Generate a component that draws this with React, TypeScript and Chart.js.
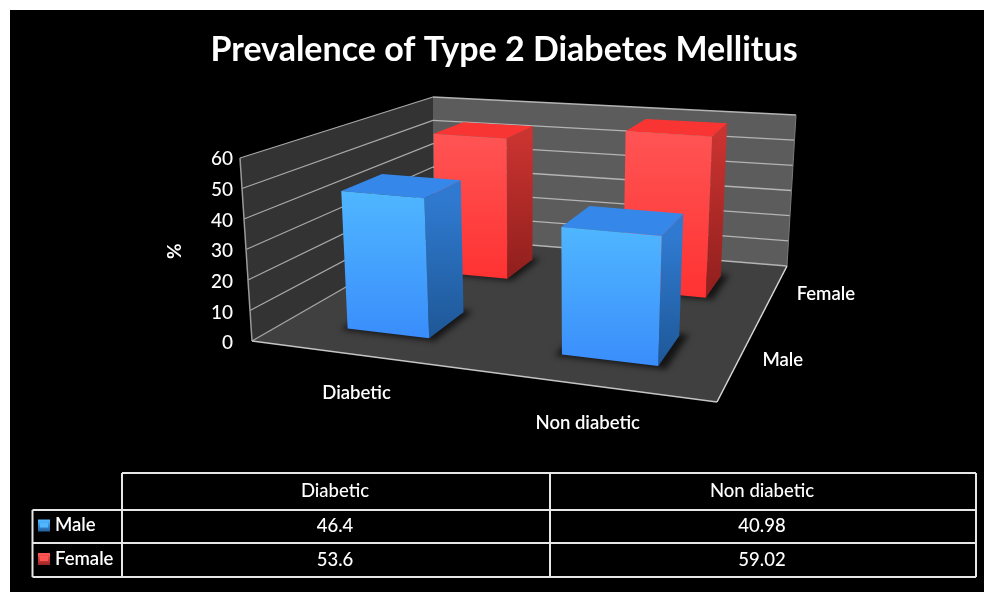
import React, { useEffect, useRef } from "react";
import { Chart, registerables } from "chart.js";

Chart.register(...registerables);

const categories = ["Diabetic", "Non diabetic"];
const seriesNames = ["Male", "Female"];
const maleValues = [46.4, 40.98];
const femaleValues = [53.6, 59.02];
const yTicks = { min: 0, max: 60, stepSize: 10 };

type Pt = [number, number];

const FONT = "Lato, 'Open Sans', sans-serif";

// Screen corners of the 3D plot box: floor (w = 0) and ceiling (w = 1).
const floorQuad: Pt[] = [[252, 341], [717, 402], [787, 266], [433, 237]];
const ceilQuad: Pt[] = [[240, 158], [727, 199], [796, 115], [433, 97]];
const BAR_DEPTH = 0.4;
// Sideways nudge of the bars inside each category band, in plot-width units.
const BAR_U_SHIFT = 0.008;

const palettes = [
  { frontTop: "#4fb6ff", frontBot: "#3a8dfb", top: "#3588ea", sideTop: "#2f7ad0", sideBot: "#1e5796" },
  { frontTop: "#ff5454", frontBot: "#ff3232", top: "#f93534", sideTop: "#c93330", sideBot: "#8f1f1d" },
];

// Projective map from the unit square onto a screen quadrilateral.
function quadMap(q: Pt[]) {
  const [[x0, y0], [x1, y1], [x2, y2], [x3, y3]] = q;
  const dx1 = x1 - x2, dx2 = x3 - x2, sx = x0 - x1 + x2 - x3;
  const dy1 = y1 - y2, dy2 = y3 - y2, sy = y0 - y1 + y2 - y3;
  const den = dx1 * dy2 - dx2 * dy1;
  const g = (sx * dy2 - dx2 * sy) / den;
  const h = (dx1 * sy - sx * dy1) / den;
  const a = x1 - x0 + g * x1, b = x3 - x0 + h * x3;
  const d = y1 - y0 + g * y1, e = y3 - y0 + h * y3;
  return (u: number, v: number): Pt => {
    const k = g * u + h * v + 1;
    return [(a * u + b * v + x0) / k, (d * u + e * v + y0) / k];
  };
}

const onFloor = quadMap(floorQuad);
const onCeil = quadMap(ceilQuad);

function project(u: number, v: number, w: number): Pt {
  const f = onFloor(u, v);
  const c = onCeil(u, v);
  return [f[0] + (c[0] - f[0]) * w, f[1] + (c[1] - f[1]) * w];
}

function poly(ctx: CanvasRenderingContext2D, pts: Pt[], fill?: string | CanvasGradient) {
  ctx.beginPath();
  pts.forEach((p, i) => (i ? ctx.lineTo(p[0], p[1]) : ctx.moveTo(p[0], p[1])));
  ctx.closePath();
  if (fill) {
    ctx.fillStyle = fill;
    ctx.fill();
  }
}

function seg(ctx: CanvasRenderingContext2D, a: Pt, b: Pt, color: string, width = 1) {
  ctx.strokeStyle = color;
  ctx.lineWidth = width;
  ctx.beginPath();
  ctx.moveTo(a[0], a[1]);
  ctx.lineTo(b[0], b[1]);
  ctx.stroke();
}

function drawRoom(ctx: CanvasRenderingContext2D, chart: any) {
  const area = chart.chartArea;
  const y = chart.scales.y;
  const P = project;

  poly(ctx, [P(0, 0, 0), P(0, 1, 0), P(0, 1, 1), P(0, 0, 1)], "#333333");
  poly(ctx, [P(0, 1, 0), P(1, 1, 0), P(1, 1, 1), P(0, 1, 1)], "#5c5c5c");
  poly(ctx, [P(0, 0, 0), P(1, 0, 0), P(1, 1, 0), P(0, 1, 0)], "#404040");

  for (const t of y.ticks) {
    const w = (area.bottom - y.getPixelForValue(t.value)) / area.height;
    seg(ctx, P(0, 0, w), P(0, 1, w), "#a8a8a8", 1.3);
    seg(ctx, P(0, 1, w), P(1, 1, w), "#b4b4b4", 1.3);
  }
  seg(ctx, P(0, 0, 0), P(0, 0, 1), "#9a9a9a", 1.5);
  seg(ctx, P(1, 1, 0), P(1, 1, 1), "#7a7a7a");
  seg(ctx, P(0, 0, 0), P(1, 0, 0), "#c4c4c4", 1.5);
  seg(ctx, P(1, 0, 0), P(1, 1, 0), "#d8d8d8", 1.5);
}

function drawBar(
  ctx: CanvasRenderingContext2D,
  chart: any,
  el: any,
  seriesIndex: number,
) {
  const area = chart.chartArea;
  const P = project;
  const band = 1 / seriesNames.length;
  const u0 = (el.x - el.width / 2 - area.left) / area.width + BAR_U_SHIFT;
  const u1 = (el.x + el.width / 2 - area.left) / area.width + BAR_U_SHIFT;
  const vMid = (seriesIndex + 0.5) * band;
  const v0 = vMid - (band * BAR_DEPTH) / 2;
  const v1 = vMid + (band * BAR_DEPTH) / 2;
  const w = (area.bottom - el.y) / area.height;
  const c = palettes[seriesIndex];

  // Soft contact shadow on the floor
  ctx.save();
  ctx.filter = "blur(3px)";
  poly(ctx, [P(u0 - 0.012, v0 - 0.012, 0), P(u1 + 0.018, v0 - 0.012, 0), P(u1 + 0.018, v1 + 0.015, 0), P(u0 - 0.012, v1 + 0.015, 0)], "#141414");
  ctx.restore();

  const side = ctx.createLinearGradient(0, P(u1, v0, w)[1], 0, P(u1, v0, 0)[1]);
  side.addColorStop(0, c.sideTop);
  side.addColorStop(1, c.sideBot);
  poly(ctx, [P(u1, v0, 0), P(u1, v1, 0), P(u1, v1, w), P(u1, v0, w)], side);

  poly(ctx, [P(u0, v0, w), P(u1, v0, w), P(u1, v1, w), P(u0, v1, w)], c.top);

  const front = ctx.createLinearGradient(0, P(u0, v0, w)[1], 0, P(u1, v0, 0)[1]);
  front.addColorStop(0, c.frontTop);
  front.addColorStop(1, c.frontBot);
  poly(ctx, [P(u0, v0, 0), P(u1, v0, 0), P(u1, v0, w), P(u0, v0, w)], front);
}

function drawAxisLabels(ctx: CanvasRenderingContext2D) {
  ctx.fillStyle = "#ffffff";
  ctx.font = `600 18.5px ${FONT}`;
  ctx.textBaseline = "middle";
  ctx.textAlign = "center";
  categories.forEach((name, i) => {
    const p = onFloor((i + 0.5) / categories.length, 0);
    ctx.fillText(name, p[0] + 3, p[1] + 38.5);
  });
  ctx.textAlign = "left";
  seriesNames.forEach((name, i) => {
    const p = onFloor(1, (i + 0.5) / seriesNames.length);
    ctx.fillText(name, p[0] + 23, p[1] + 2);
  });
}

function drawDataTable(ctx: CanvasRenderingContext2D) {
  const xs = [32.5, 122, 550, 976];
  const ys = [473, 510, 543, 577];
  const rows = [maleValues, femaleValues];
  ctx.strokeStyle = "#e6e6e6";
  ctx.lineWidth = 2;
  ctx.beginPath();
  ctx.moveTo(xs[1], ys[0]);
  ctx.lineTo(xs[3], ys[0]);
  for (let r = 1; r < ys.length; r++) {
    ctx.moveTo(xs[0], ys[r]);
    ctx.lineTo(xs[3], ys[r]);
  }
  ctx.moveTo(xs[0], ys[1]);
  ctx.lineTo(xs[0], ys[3]);
  for (let c = 1; c < xs.length; c++) {
    ctx.moveTo(xs[c], ys[0]);
    ctx.lineTo(xs[c], ys[3]);
  }
  ctx.stroke();

  ctx.fillStyle = "#ffffff";
  ctx.font = `500 18.5px ${FONT}`;
  ctx.textBaseline = "middle";
  ctx.textAlign = "center";
  categories.forEach((name, c) => {
    ctx.fillText(name, (xs[c + 1] + xs[c + 2]) / 2 - 1, (ys[0] + ys[1]) / 2);
  });
  rows.forEach((vals, r) => {
    const yMid = (ys[r + 1] + ys[r + 2]) / 2;
    vals.forEach((v, c) => {
      ctx.fillStyle = "#ffffff";
      ctx.textAlign = "center";
      ctx.fillText(String(v), (xs[c + 1] + xs[c + 2]) / 2 - 1, yMid);
    });
    // Legend key inside the row header
    const k = palettes[r];
    const g = ctx.createLinearGradient(0, yMid - 6, 0, yMid + 6);
    g.addColorStop(0, k.frontTop);
    g.addColorStop(1, k.sideBot);
    ctx.fillStyle = g;
    ctx.fillRect(38, yMid - 7, 12, 12);
    ctx.fillStyle = k.frontTop;
    ctx.fillRect(40, yMid - 4, 8, 5);
    ctx.fillStyle = "#ffffff";
    ctx.textAlign = "left";
    ctx.font = `600 18.5px ${FONT}`;
    ctx.fillText(seriesNames[r], 55, yMid - 1);
    ctx.font = `500 18.5px ${FONT}`;
  });
}

const scenePlugin = {
  id: "scene3d",
  beforeDraw(chart: any) {
    const { ctx } = chart;
    ctx.save();
    ctx.fillStyle = "#ffffff";
    ctx.fillRect(0, 0, chart.width, chart.height);
    ctx.fillStyle = "#000000";
    ctx.fillRect(10, 10, chart.width - 10, chart.height - 10);
    ctx.restore();
  },
  beforeDatasetsDraw(chart: any) {
    const { ctx } = chart;
    ctx.save();
    drawRoom(ctx, chart);
    // Back row first so the front row overlaps it
    for (let s = seriesNames.length - 1; s >= 0; s--) {
      const meta = chart.getDatasetMeta(s);
      meta.data.forEach((el: any) => drawBar(ctx, chart, el, s));
    }
    ctx.restore();
    return false;
  },
  afterDraw(chart: any) {
    const { ctx } = chart;
    ctx.save();
    drawAxisLabels(ctx);
    drawDataTable(ctx);
    ctx.restore();
  },
};

export default function App() {
  const ref = useRef<HTMLCanvasElement>(null);

  useEffect(() => {
    const chart = new Chart(ref.current!, {
      type: "bar",
      data: {
        labels: categories,
        datasets: [
          { label: seriesNames[0], data: maleValues, backgroundColor: palettes[0].frontBot, grouped: false, barPercentage: BAR_DEPTH, categoryPercentage: 1 },
          { label: seriesNames[1], data: femaleValues, backgroundColor: palettes[1].frontBot, grouped: false, barPercentage: BAR_DEPTH, categoryPercentage: 1 },
        ],
      } as any,
      options: {
        animation: false,
        responsive: false,
        events: [],
        layout: { padding: { left: 24, right: 0, top: 0, bottom: 249 } },
        plugins: {
          legend: { display: false },
          tooltip: { enabled: false },
          title: {
            display: true,
            text: "Prevalence of Type 2 Diabetes Mellitus",
            color: "#ffffff",
            font: { family: FONT, size: 34, weight: "bold" },
            padding: { top: 30, bottom: 88.5 },
          },
        },
        scales: {
          x: { display: false },
          y: {
            min: yTicks.min,
            max: yTicks.max,
            afterFit(scale: any) {
              scale.width = 216;
            },
            grid: { display: false, drawTicks: false },
            border: { display: false },
            ticks: {
              stepSize: yTicks.stepSize,
              color: "#ffffff",
              padding: 7,
              font: { family: FONT, size: 19, weight: "500" },
            },
            title: {
              display: true,
              text: "%",
              color: "#ffffff",
              font: { family: FONT, size: 19, weight: "bold" },
              padding: { top: 139, bottom: 0 },
            },
          },
        },
      } as any,
      plugins: [scenePlugin],
    });
    return () => chart.destroy();
  }, []);

  return (
    <div style={{ position: "fixed", left: 0, top: 0, width: 984, height: 592, overflow: "hidden" }}>
      <canvas ref={ref} width={984} height={592} style={{ display: "block" }} />
    </div>
  );
}
